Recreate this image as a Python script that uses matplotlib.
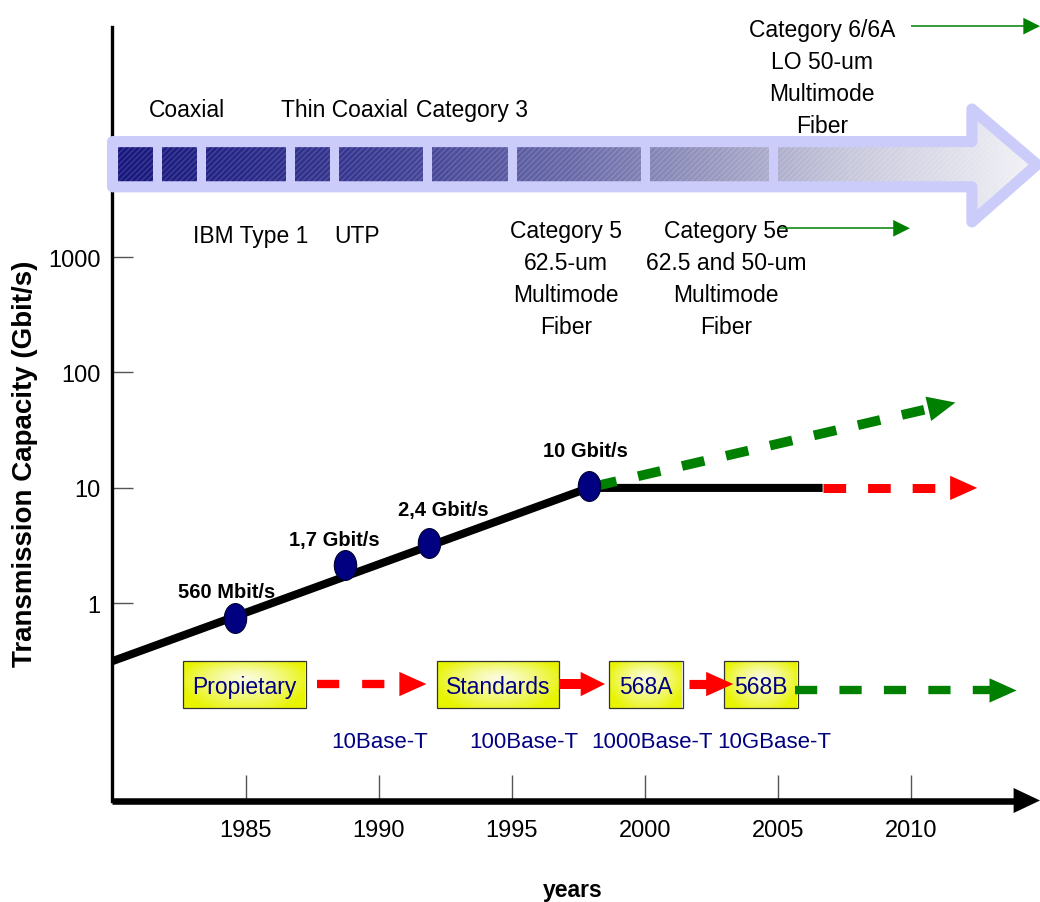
import numpy as np
import matplotlib
matplotlib.use('Agg')
import matplotlib.pyplot as plt
from matplotlib.patches import Polygon, Rectangle
from matplotlib.path import Path
from matplotlib.transforms import Affine2D
from matplotlib.ticker import NullLocator
from matplotlib.colors import LinearSegmentedColormap

plt.rcParams['font.family'] = ['Liberation Sans', 'DejaVu Sans']
plt.rcParams['lines.scale_dashes'] = False

# capacity milestones
years = [1984.6, 1988.75, 1991.9, 1997.9]
capacity = [0.75, 2.13, 3.35, 10.4]
point_labels = ['560 Mbit/s', '1,7 Gbit/s', '2,4 Gbit/s', '10 Gbit/s']

# black trend line
trend_years = [1980.0, 1997.9, 2006.69]
trend_cap = [0.316, 10.0, 10.0]

# forecasts
red_fc_years = [2006.69, 2012.5]
red_fc_cap = [10.0, 10.0]
green_fc_years = [1998.1, 2011.68]
green_fc_cap = [10.3, 54.9]

# standards boxes
std_names = ['Propietary', 'Standards', '568A', '568B']
std_start = [1982.65, 1992.18, 1998.67, 2002.99]
std_end = [1987.27, 1996.78, 2001.43, 2005.77]
std_low, std_high, std_level = 0.124, 0.316, 0.2
std_arrow_from = [1987.67, 1996.78, 2001.66]
std_arrow_to = [1991.80, 1998.51, 2003.33]
std_next_from, std_next_to, std_next_level = 2005.65, 2013.98, 0.176

ethernet = ['10Base-T', '100Base-T', '1000Base-T', '10GBase-T']
ethernet_years = [1990.05, 1995.46, 2000.27, 2004.86]
ethernet_level = 0.0667

# cabling media
media_top = ['Coaxial', 'Thin Coaxial', 'Category 3']
media_top_years = [1982.8, 1988.7, 1993.5]
media_top_level = 16500
media_low = ['IBM Type 1', 'UTP']
media_low_years = [1985.2, 1989.2]
media_low_level = 1341
fiber = [['Category 5', '62.5-um', 'Multimode', 'Fiber'],
         ['Category 5e', '62.5 and 50-um', 'Multimode', 'Fiber'],
         ['Category 6/6A', 'LO 50-um', 'Multimode', 'Fiber']]
fiber_years = [1997.05, 2003.06, 2006.67]
fiber_levels = [1482, 1482, 82600]
fiber_arrow_from = [2005.09, 2010.0]
fiber_arrow_to = [2009.97, 2014.86]
fiber_arrow_levels = [1774, 1.0e5]

# media band
band_seps = [1981.67, 1983.33, 1986.67, 1988.33, 1991.83, 1995.0, 2000.0, 2004.83]
band_left, band_head, band_tip = 1980.0, 2012.3, 2014.75
band_top, band_bottom, band_mid = 1.0e4, 4058, 6330
head_top, head_bottom = 19150, 2012

xticks = [1985, 1990, 1995, 2000, 2005, 2010]
yticks = [1, 10, 100, 1000]
XMIN, XMAX = 1980.0, 2014.86
YMIN, YMAX = 0.0196, 9.83e4

NAVY = '#000080'
LAV = '#ccccfa'
GREEN = '#008000'
RED = '#ff0000'

fig = plt.figure(figsize=(10.4, 9.03), dpi=100)
ax = fig.add_axes([0.10817, 0.11240, 0.89183, 0.85659])
ax.set_yscale('log')
ax.set_xlim(XMIN, XMAX)
ax.set_ylim(YMIN, YMAX)


def arrow(x0, y0, x1, y1, color, lw, head_len, head_w, dashes=None, z=3):
    p0 = ax.transData.transform((x0, y0))
    p1 = ax.transData.transform((x1, y1))
    u = (p1 - p0) / np.hypot(*(p1 - p0))
    pb = p1 - u * head_len * fig.dpi / 72 * 0.8
    xb, yb = ax.transData.inverted().transform(pb)
    kw = dict(color=color, lw=lw, solid_capstyle='butt', dash_capstyle='butt',
              zorder=z, clip_on=False)
    if dashes:
        kw['dashes'] = dashes
    ax.plot([x0, xb], [y0, yb], **kw)
    ax.annotate('', xy=(x1, y1), xytext=(x0, y0),
                arrowprops=dict(arrowstyle='-|>,head_length=%g,head_width=%g' % (head_len, head_w / 2),
                                color=color, lw=0, shrinkA=0, shrinkB=0, mutation_scale=1),
                zorder=z, annotation_clip=False)


# axes
for s in ['top', 'right', 'bottom']:
    ax.spines[s].set_visible(False)
ax.spines['left'].set_linewidth(2.4)
arrow(XMIN, YMIN, XMAX, YMIN, 'black', 4.7, 19, 18, z=2.6)

ax.set_xticks(xticks)
ax.set_xticklabels([str(t) for t in xticks])
ax.set_yticks(yticks)
ax.set_yticklabels([str(t) for t in yticks])
ax.yaxis.set_minor_locator(NullLocator())
ax.tick_params(axis='x', direction='in', length=18.7, width=1, color='#555555', pad=13, labelsize=17)
ax.tick_params(axis='y', direction='in', length=15, width=1, color='#555555', pad=8.5, labelsize=17)

ax.text(-0.094, 0.436, 'Transmission Capacity (Gbit/s)', transform=ax.transAxes, rotation=90,
        ha='center', va='center', fontsize=20, fontweight='bold')
ax.text(0.4965, -0.1231, 'years', transform=ax.transAxes, ha='center', va='baseline',
        fontsize=16.5, fontweight='bold')

# media band arrow
verts = [(band_left, band_top), (band_head, band_top), (band_head, head_top), (band_tip, band_mid),
         (band_head, head_bottom), (band_head, band_bottom), (band_left, band_bottom)]
band_cmap = LinearSegmentedColormap.from_list(
    'band', [(0.0, '#16167e'), (0.29, '#3c3c94'), (0.5, '#6a6aaa'), (0.65, '#9898c0'),
             (0.8, '#c8c8dc'), (1.0, '#f2f2f7')])
poly = Polygon(verts, closed=True, facecolor='none', edgecolor=LAV, lw=8,
               joinstyle='round', zorder=5, clip_on=False)
ax.add_patch(poly)
im = ax.imshow(np.linspace(0, 1, 256)[None, :], cmap=band_cmap,
               extent=[band_left, band_tip, head_bottom, head_top], aspect='auto',
               zorder=4, interpolation='bilinear')
im.set_clip_path(poly)
ax.add_patch(Polygon(verts, closed=True, fill=False, hatch='//////', edgecolor=(1, 1, 1, 0.15),
                     lw=0, zorder=4.5, clip_on=False))
ax.vlines(band_seps, band_bottom, band_top, color=LAV, lw=6.5, zorder=5)

for name, x in zip(media_top, media_top_years):
    ax.text(x, media_top_level, name, ha='center', va='baseline', fontsize=16.5)
for name, x in zip(media_low, media_low_years):
    ax.text(x, media_low_level, name, ha='center', va='baseline', fontsize=16.5)
for lines, x, y in zip(fiber, fiber_years, fiber_levels):
    for i, line in enumerate(lines):
        ax.annotate(line, (x, y), xytext=(0, -23.04 * i), textcoords='offset points',
                    ha='center', va='baseline', fontsize=16.5, annotation_clip=False)
for x0, x1, y in zip(fiber_arrow_from, fiber_arrow_to, fiber_arrow_levels):
    arrow(x0, y, x1, y, GREEN, 1.1, 12, 12, z=3)

# capacity line and forecasts
ax.plot(trend_years, trend_cap, color='black', lw=5.8, solid_capstyle='butt', zorder=3)
arrow(red_fc_years[0], red_fc_cap[0], red_fc_years[1], red_fc_cap[1], RED, 6.5, 19.5, 17.5,
      dashes=(16.3, 15.8), z=3)
arrow(green_fc_years[0], green_fc_cap[0], green_fc_years[1], green_fc_cap[1], GREEN, 7, 20, 18,
      dashes=(16.5, 16), z=3.5)

ell = Path.unit_circle().transformed(Affine2D().scale(0.75, 1.0))
ax.plot(years, capacity, ls='none', marker=ell, ms=21.5, mfc=NAVY, mec='#000030', mew=0.8, zorder=6)
label_offsets = [(-5.8, 14.7), (-8.1, 14.4), (10.1, 19.9), (-2.5, 21.5)]
for x, y, lab, off in zip(years, capacity, point_labels, label_offsets):
    ax.annotate(lab, (x, y), xytext=off, textcoords='offset points', ha='center', va='baseline',
                fontsize=14.5, fontweight='bold', zorder=6)

# standards
yy, xx = np.mgrid[-1:1:40j, -1:1:60j]
box_grad = np.clip(np.sqrt(xx ** 2 * 0.8 + yy ** 2 * 0.6), 0, 1) ** 1.3
box_cmap = LinearSegmentedColormap.from_list('box', ['#fbfcdc', '#e8f400'])
for name, x0, x1 in zip(std_names, std_start, std_end):
    ax.imshow(box_grad, cmap=box_cmap, extent=[x0, x1, std_low, std_high], aspect='auto',
              zorder=3, interpolation='bilinear')
    ax.add_patch(Rectangle((x0, std_low), x1 - x0, std_high - std_low, fill=False,
                           edgecolor='#333333', lw=0.9, zorder=3.1))
    ax.text((x0 + x1) / 2, std_level, name, ha='center', va='center_baseline', color=NAVY,
            fontsize=16.5, zorder=3.2)

arrow(std_arrow_from[0], std_level, std_arrow_to[0], std_level, RED, 6, 19.5, 17.5,
      dashes=(16, 16.5), z=3.5)
arrow(std_arrow_from[1], std_level, std_arrow_to[1], std_level, RED, 7.2, 17.5, 17.5, z=3.5)
arrow(std_arrow_from[2], std_level, std_arrow_to[2], std_level, RED, 6.6, 19.5, 17.5, z=3.5)
arrow(std_next_from, std_next_level, std_next_to, std_next_level, GREEN, 6, 19.5, 17.5,
      dashes=(16, 16), z=3.5)

for name, x in zip(ethernet, ethernet_years):
    ax.text(x, ethernet_level, name, ha='center', va='center_baseline', color=NAVY, fontsize=16)

ax.set_xlim(XMIN, XMAX)
ax.set_ylim(YMIN, YMAX)
fig.savefig('out.png', dpi=100)
